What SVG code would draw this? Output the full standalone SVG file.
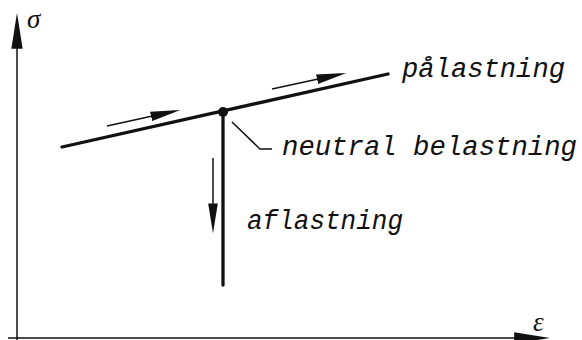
<svg xmlns="http://www.w3.org/2000/svg" width="582" height="340" viewBox="0 0 582 340">
<defs>
<style>
.axis{stroke:#111;stroke-width:1.5;fill:none}
.thick{stroke:#111;stroke-width:3.3;fill:none;stroke-linecap:round}
.thin{stroke:#111;stroke-width:1.5;fill:none}
.lbl{font-family:"Liberation Mono","DejaVu Sans Mono",monospace;font-style:italic;font-size:27px;fill:#111}
.sym{font-family:"Liberation Serif","DejaVu Serif",serif;font-style:italic;font-size:27px;fill:#111}
</style>
<marker id="ah" markerUnits="userSpaceOnUse" markerWidth="30" markerHeight="10" viewBox="0 0 28 9" refX="22" refY="4.5" orient="auto">
<path d="M0,0 L28,4.5 L0,9 Z" fill="#111"/>
</marker>
<marker id="big" markerUnits="userSpaceOnUse" markerWidth="36" markerHeight="12" viewBox="0 0 35 11" refX="29" refY="5.5" orient="auto">
<path d="M0,0 L35,5.5 L0,11 Z" fill="#111"/>
</marker>
</defs>
<rect width="582" height="340" fill="#fff"/>
<g id="connectors">
<line class="axis" x1="17" y1="340" x2="17" y2="19" marker-end="url(#big)"/>
<line class="axis" x1="8" y1="338" x2="544" y2="338" marker-end="url(#big)"/>
<line class="thick" x1="62" y1="147" x2="388" y2="74"/>
<line class="thick" x1="223" y1="112" x2="223" y2="285"/>
<polyline class="thin" points="232,122 260,149 272,149"/>
<line class="thin" x1="107" y1="126" x2="174.1" y2="111.3" marker-end="url(#ah)"/>
<line class="thin" x1="272" y1="89" x2="340.1" y2="74.3" marker-end="url(#ah)"/>
<line class="thin" x1="213" y1="158" x2="213" y2="227" marker-end="url(#ah)"/>
</g>
<g id="node-point">
<circle cx="223" cy="112" r="5" fill="#111"/>
</g>
<g id="label-sigma"><text class="sym" x="27" y="28">σ</text></g>
<g id="label-epsilon"><text class="sym" x="533" y="331">ε</text></g>
<g id="label-palastning"><text class="lbl" x="402" y="77" textLength="163" lengthAdjust="spacingAndGlyphs">pålastning</text></g>
<g id="label-neutral"><text class="lbl" x="282" y="155" textLength="295" lengthAdjust="spacingAndGlyphs">neutral belastning</text></g>
<g id="label-aflastning"><text class="lbl" x="247" y="229" textLength="156" lengthAdjust="spacingAndGlyphs">aflastning</text></g>
</svg>
